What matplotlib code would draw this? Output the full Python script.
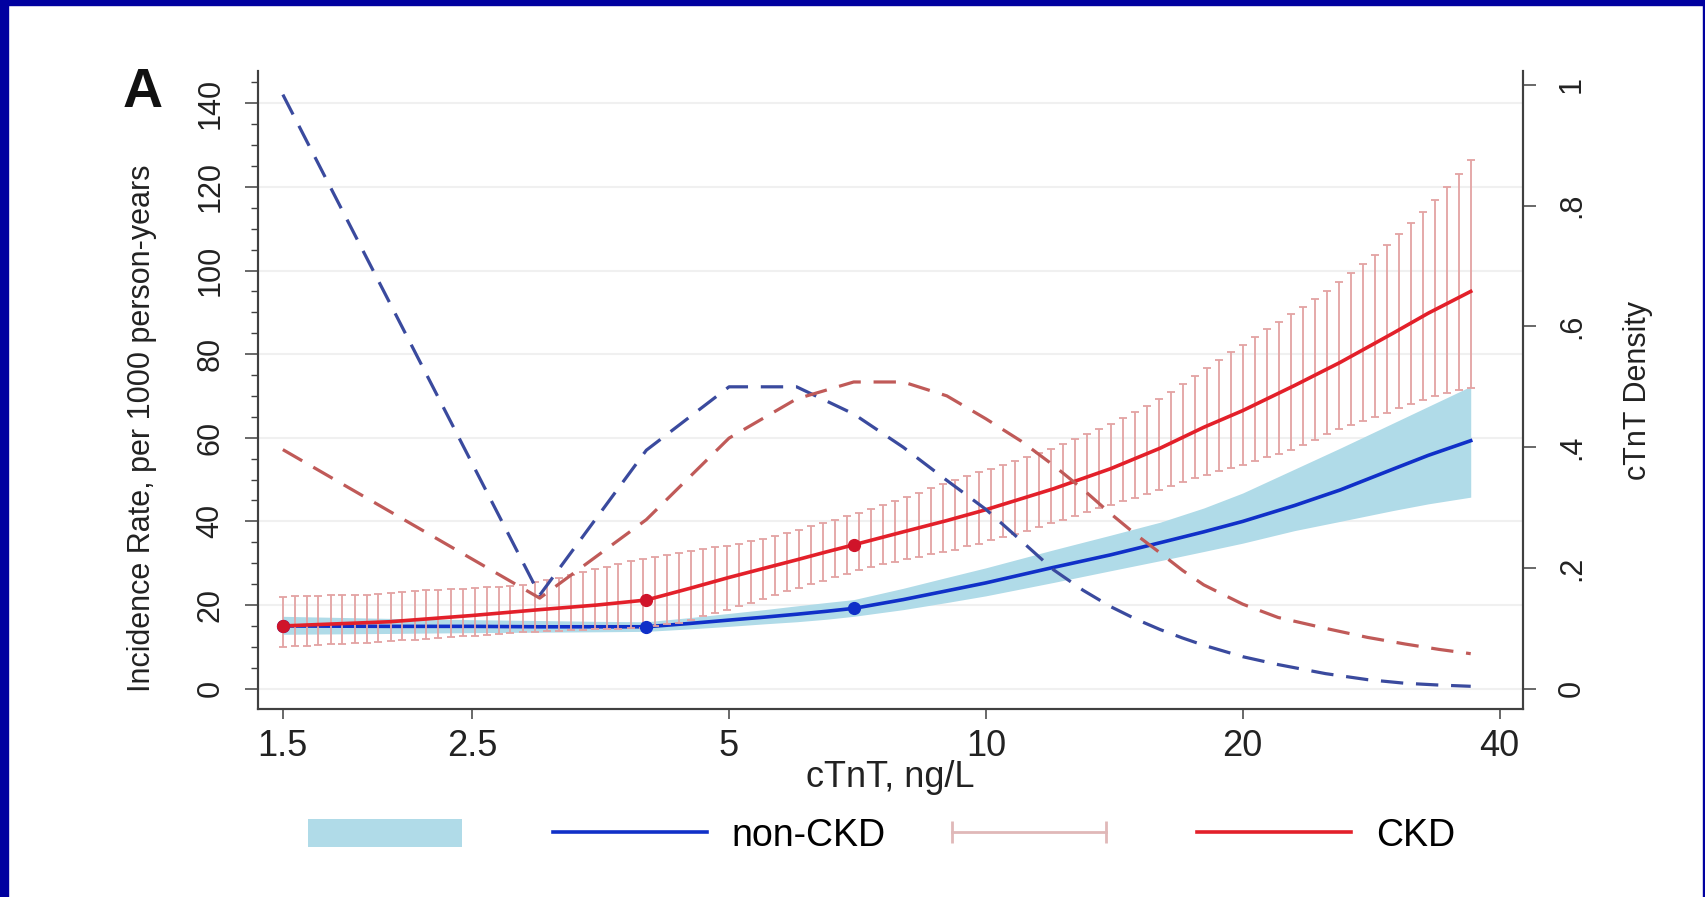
import matplotlib

matplotlib.use("Agg")
import matplotlib.pyplot as plt
from matplotlib.lines import Line2D
from matplotlib.patches import Patch, Rectangle
from matplotlib.legend_handler import HandlerLine2D
from matplotlib.ticker import FixedLocator, MultipleLocator, NullLocator

plt.rcParams["font.family"] = ["Liberation Sans", "DejaVu Sans"]

# CKD: confidence-interval spikes on a log-spaced cTnT grid
ckd_ci_x = [1.50, 1.55, 1.60, 1.65, 1.71, 1.76, 1.82, 1.88, 1.94, 2.01,
            2.07, 2.14, 2.21, 2.28, 2.36, 2.44, 2.52, 2.60, 2.69, 2.77,
            2.87, 2.96, 3.06, 3.16, 3.26, 3.37, 3.48, 3.60, 3.71, 3.84,
            3.96, 4.09, 4.23, 4.37, 4.51, 4.66, 4.81, 4.97, 5.13, 5.30,
            5.48, 5.66, 5.84, 6.04, 6.23, 6.44, 6.65, 6.87, 7.10, 7.33,
            7.57, 7.82, 8.08, 8.34, 8.62, 8.90, 9.20, 9.50, 9.81, 10.13,
            10.47, 10.81, 11.17, 11.53, 11.91, 12.31, 12.71, 13.13, 13.56, 14.01,
            14.47, 14.94, 15.44, 15.94, 16.47, 17.01, 17.57, 18.15, 18.74, 19.36,
            20.00, 20.66, 21.34, 22.04, 22.76, 23.51, 24.29, 25.09, 25.91, 26.76,
            27.64, 28.55, 29.49, 30.46, 31.47, 32.50, 33.57, 34.68, 35.82, 37.00]
ckd_ci_hi = [22.0, 22.1, 22.1, 22.2, 22.3, 22.3, 22.4, 22.5, 22.7, 22.9,
             23.1, 23.3, 23.5, 23.6, 23.8, 23.9, 24.1, 24.2, 24.4, 24.6,
             24.9, 25.4, 25.9, 26.5, 27.1, 27.8, 28.5, 29.2, 29.9, 30.6,
             31.1, 31.6, 32.0, 32.4, 32.9, 33.3, 33.8, 34.2, 34.7, 35.2,
             35.8, 36.5, 37.2, 38.0, 38.8, 39.6, 40.4, 41.2, 42.0, 42.9,
             43.9, 44.9, 45.9, 46.9, 47.9, 48.9, 49.9, 50.8, 51.7, 52.6,
             53.5, 54.4, 55.4, 56.4, 57.4, 58.4, 59.6, 60.8, 62.0, 63.3,
             64.7, 66.2, 67.7, 69.3, 71.0, 72.8, 74.7, 76.6, 78.5, 80.4,
             82.3, 84.2, 86.0, 87.8, 89.5, 91.3, 93.2, 95.2, 97.2, 99.3,
             101.5, 103.8, 106.2, 108.8, 111.4, 114.1, 116.9, 119.9, 123.1, 126.5]
ckd_ci_lo = [10.0, 10.1, 10.3, 10.4, 10.6, 10.7, 10.9, 11.0, 11.2, 11.4,
             11.6, 11.7, 11.9, 12.1, 12.3, 12.5, 12.7, 12.9, 13.1, 13.3,
             13.5, 13.6, 13.8, 13.9, 14.0, 14.1, 14.2, 14.2, 14.3, 14.4,
             14.5, 14.9, 15.4, 15.8, 16.5, 17.3, 18.0, 18.9, 19.8, 20.6,
             21.5, 22.4, 23.3, 24.1, 25.0, 25.8, 26.7, 27.5, 28.3, 29.0,
             29.7, 30.3, 31.0, 31.5, 32.1, 32.6, 33.2, 34.0, 34.7, 35.5,
             36.2, 37.0, 37.8, 38.7, 39.5, 40.4, 41.3, 42.2, 43.1, 43.9,
             44.8, 45.6, 46.5, 47.5, 48.5, 49.4, 50.4, 51.2, 52.0, 52.7,
             53.5, 54.4, 55.3, 56.2, 57.1, 58.3, 59.5, 60.8, 62.0, 63.0,
             64.0, 65.0, 66.0, 67.0, 68.0, 69.1, 70.1, 70.7, 71.4, 72.0]

# CKD incidence rate (per 1000 person-years)
ckd_x = [1.5, 2.0, 2.5, 3.0, 3.5, 4.0, 4.5, 5.0, 5.5, 6.0, 6.5, 7.0, 8.0,
         9.0, 10.0, 12.0, 14.0, 16.0, 18.0, 20.0, 23.0, 26.0, 30.0, 33.0, 37.0]
ckd_rate = [15.0, 16.0, 17.5, 18.9, 20.0, 21.2, 24.0, 26.6, 28.8, 30.8, 32.7, 34.4, 37.5,
            40.2, 42.8, 47.8, 52.6, 57.5, 62.5, 66.5, 72.5, 78.0, 85.0, 89.8, 95.0]

# non-CKD incidence rate and 95% band
nonckd_x = [1.5, 2.0, 2.5, 3.0, 3.5, 4.0, 4.5, 5.0, 5.5, 6.0, 6.5, 7.0, 8.0,
            9.0, 10.0, 12.0, 14.0, 16.0, 18.0, 20.0, 23.0, 26.0, 30.0, 33.0, 37.0]
nonckd_rate = [15.0, 14.9, 14.9, 14.8, 14.8, 14.8, 15.6, 16.4, 17.1, 17.8, 18.5, 19.2, 21.3,
               23.4, 25.3, 29.0, 32.0, 34.9, 37.5, 40.0, 43.8, 47.5, 52.5, 55.8, 59.3]
nonckd_lo = [13.0, 13.2, 13.4, 13.5, 13.6, 13.7, 14.3, 14.9, 15.5, 16.0, 16.6, 17.3, 18.9,
             20.6, 22.2, 25.4, 28.2, 30.6, 32.8, 34.8, 37.8, 40.0, 42.6, 44.2, 45.8]
nonckd_hi = [17.3, 16.8, 16.5, 16.3, 16.1, 16.0, 17.0, 18.0, 18.9, 19.8, 20.6, 21.3, 24.0,
             26.6, 28.9, 33.2, 36.7, 39.8, 43.2, 46.8, 52.5, 57.5, 63.5, 67.5, 72.3]

# spline knots
knot_x = [1.5, 4.0, 7.0]
ckd_knot = [15.0, 21.2, 34.4]
nonckd_knot = [15.0, 14.8, 19.2]

# cTnT density (right axis)
dens_x = [1.5, 3, 4, 5, 6, 7, 8, 9, 10, 11, 12, 13, 14, 15, 16, 17, 18, 20, 22, 25, 28, 31, 34, 37]
dens_nonckd = [0.984, 0.155, 0.395, 0.50, 0.50, 0.455, 0.40, 0.345, 0.297, 0.245, 0.197, 0.163,
               0.136, 0.115, 0.098, 0.084, 0.072, 0.053, 0.040, 0.025, 0.015, 0.009, 0.006, 0.004]
dens_ckd = [0.396, 0.150, 0.28, 0.415, 0.48, 0.508, 0.508, 0.485, 0.447, 0.41, 0.37, 0.33,
            0.29, 0.255, 0.225, 0.196, 0.172, 0.14, 0.118, 0.10, 0.085, 0.074, 0.065, 0.058]

x_ticks = [1.5, 2.5, 5, 10, 20, 40]
x_ticklabels = ["1.5", "2.5", "5", "10", "20", "40"]
y_ticks = [0, 20, 40, 60, 80, 100, 120, 140]
dens_ticks = [0, 0.2, 0.4, 0.6, 0.8, 1.0]
dens_ticklabels = ["0", ".2", ".4", ".6", ".8", "1"]

BLUE = "#1030c8"
RED = "#e3202a"
BAND = "#b0dbe8"
SPIKE = "#e3a3a3"
BLUE_DASH = "#3a4a9e"
RED_DASH = "#c05a58"
SPINE = "#404040"
TXT = "#222222"

fig = plt.figure(figsize=(17.06, 8.97), dpi=100)
ax = fig.add_axes([0.1512, 0.2096, 0.7415, 0.7112])
ax2 = ax.twinx()

ax.set_xscale("log")
ax.set_xlim(1.4025, 42.6)
ax.set_ylim(-4.86, 147.7)
ax2.set_ylim(-0.0336, 1.023)

for y in y_ticks:
    ax.axhline(y, color="#f0f0f0", lw=1.5, zorder=0)

ax.fill_between(nonckd_x, nonckd_lo, nonckd_hi, color=BAND, lw=0, zorder=1)
ax.plot(nonckd_x, nonckd_rate, color=BLUE, lw=2.6, zorder=2)
ax.vlines(ckd_ci_x, ckd_ci_lo, ckd_ci_hi, color=SPIKE, lw=1.3, zorder=3)
ax.plot(ckd_ci_x, ckd_ci_hi, ls="none", marker="_", ms=6, mew=1.3, color=SPIKE, zorder=3)
ax.plot(ckd_ci_x, ckd_ci_lo, ls="none", marker="_", ms=6, mew=1.3, color=SPIKE, zorder=3)
ax.plot(ckd_x, ckd_rate, color=RED, lw=2.6, zorder=4)
ax.plot(knot_x, nonckd_knot, ls="none", marker="o", ms=8.5, color=BLUE, zorder=5)
ax.plot(knot_x, ckd_knot, ls="none", marker="o", ms=8.5, color="#d0142a", zorder=6)

ax2.plot(dens_x, dens_nonckd, color=BLUE_DASH, lw=2.3, ls=(0, (7, 4)))
ax2.plot(dens_x, dens_ckd, color=RED_DASH, lw=2.3, ls=(0, (7, 4)))

for a in (ax, ax2):
    a.spines["top"].set_visible(False)
    for s in ("left", "right", "bottom"):
        a.spines[s].set_color(SPINE)
        a.spines[s].set_linewidth(1.5)

ax.xaxis.set_major_locator(FixedLocator(x_ticks))
ax.xaxis.set_minor_locator(NullLocator())
ax.set_xticklabels(x_ticklabels)
ax.tick_params(axis="x", length=7.2, width=1.1, color=SPINE, pad=7,
               labelsize=26, labelcolor=TXT)

ax.yaxis.set_major_locator(FixedLocator(y_ticks))
ax.yaxis.set_minor_locator(MultipleLocator(5))
ax.tick_params(axis="y", which="major", length=9.4, width=1.1, color=SPINE, pad=14,
               labelsize=22, labelcolor=TXT)
ax.tick_params(axis="y", which="minor", length=5, width=1.0, color=SPINE)
for lab in ax.get_yticklabels():
    lab.set_rotation(90)
    lab.set_va("center")

ax2.yaxis.set_major_locator(FixedLocator(dens_ticks))
ax2.set_yticklabels(dens_ticklabels)
ax2.tick_params(axis="y", length=9.4, width=1.1, color=SPINE, pad=15,
                labelsize=22, labelcolor=TXT)
for lab in ax2.get_yticklabels():
    lab.set_rotation(90)
    lab.set_va("center")

ax.set_xlabel("cTnT, ng/L", fontsize=26, color=TXT, va="center")
ax.xaxis.set_label_coords(0.5, -0.108)
ax.set_ylabel("Incidence Rate, per 1000 person-years", fontsize=22, color=TXT,
              va="center", ha="center")
ax.yaxis.set_label_coords(-0.092, 0.44)
ax2.set_ylabel("cTnT Density", fontsize=22, color=TXT, rotation=90,
               va="center", ha="center")
ax2.yaxis.set_label_coords(1.0909, 0.5)

fig.text(143 / 1706, 1 - 93 / 897, "A", fontsize=40, fontweight="bold",
         ha="center", va="center", color="#111111")

handles = [
    Patch(facecolor=BAND, edgecolor="none"),
    Line2D([], [], color=BLUE, lw=2.6),
    Line2D([], [], color="#e0b8b8", lw=2.0, marker="|", ms=16, mew=2.0),
    Line2D([], [], color=RED, lw=2.6),
]
labels = ["", "non-CKD", "", "CKD"]
fig.legend(handles, labels, loc="center left", bbox_to_anchor=(308 / 1706, 1 - 836 / 897),
           ncol=4, frameon=False, fontsize=27, handlelength=4.1, handleheight=0.8,
           handletextpad=0.67, columnspacing=1.76, borderpad=0, borderaxespad=0,
           handler_map={handles[2]: HandlerLine2D(numpoints=2, marker_pad=0)})

# dark blue slide frame
frame = "#0000a0"
fig.patches.append(Rectangle((0, 1 - 5 / 897), 1, 5 / 897, transform=fig.transFigure,
                             color=frame, zorder=10))
fig.patches.append(Rectangle((0, 0), 8 / 1706, 1, transform=fig.transFigure,
                             color=frame, zorder=10))
fig.patches.append(Rectangle((1 - 3 / 1706, 0), 3 / 1706, 1, transform=fig.transFigure,
                             color=frame, zorder=10))

fig.savefig("out.png", dpi=100, facecolor="white")
